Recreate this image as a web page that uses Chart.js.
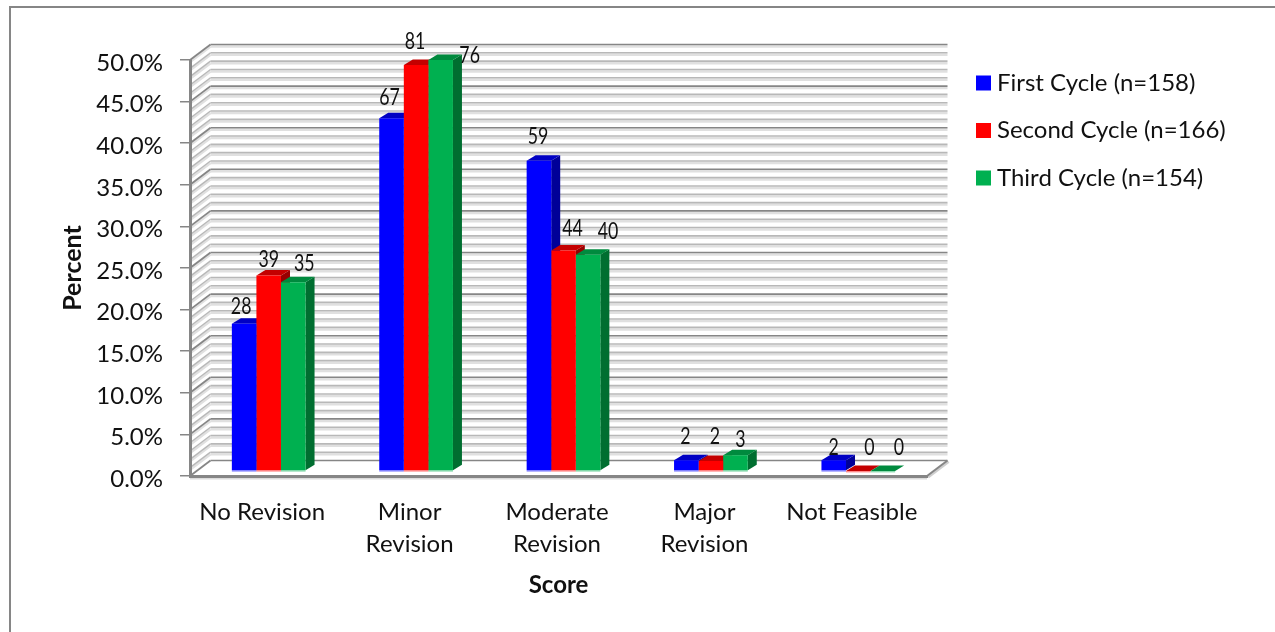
<!DOCTYPE html>
<html>
<head>
<meta charset="utf-8">
<title>Score by cycle</title>
<script src="https://cdn.jsdelivr.net/npm/chart.js@4"></script>
<style>
    body { margin: 0; background: #fff; overflow: hidden; }
    canvas { display: block; }
    .frame { position: fixed; left: 9px; top: 6px; right: 0; bottom: 0; border-left: 2px solid #868686; border-top: 2px solid #868686; pointer-events: none; }
</style>
</head>
<body>
<canvas id="score-chart" width="1275" height="632"></canvas>
<div class="frame"></div>
<script>
const categories = [["No Revision"], ["Minor", "Revision"], ["Moderate", "Revision"], ["Major", "Revision"], ["Not Feasible"]];
const seriesNames = ["First Cycle (n=158)", "Second Cycle (n=166)", "Third Cycle (n=154)"];

const firstCycle = [17.7, 42.4, 37.3, 1.3, 1.3];
const secondCycle = [23.5, 48.8, 26.5, 1.2, 0];
const thirdCycle = [22.7, 49.4, 26.0, 1.9, 0];

const firstCounts = [28, 67, 59, 2, 2];
const secondCounts = [39, 81, 44, 2, 0];
const thirdCounts = [35, 76, 40, 3, 0];

const uiFont = "Lato";
const gridDark = "#868686";
const gridMid = "#b8b8b8";
const gridShadow = "#e0e0e0";

// colours per series: front, top, side
const faces = [
    ["#0000ff", "#0000c4", "#000098"],
    ["#ff0000", "#c40000", "#980000"],
    ["#00b050", "#008a3e", "#006e30"],
];
const counts = [firstCounts, secondCounts, thirdCounts];

// hand placed count labels, offset from the top centre of each bar: [dx, dy]
const labelOffsets = [
    [[-3, -17], [-2, -21], [-1, -24], [-1, -24], [0, -13]],
    [[0, -16], [-1, -24], [9, -22], [4, -25], [11, -24]],
    [[11, -19], [29, -5], [20, -23], [5, -16], [16, -24]],
];

// the walls and floor sit behind the axes, the bars stand part way in
const wallDx = 20.5, wallDy = -15.5;
const barShiftX = 5, barShiftY = -5;
const depthX = 9, depthY = -5.5;

function line(ctx, x1, y1, x2, y2, color, width) {
    ctx.beginPath();
    ctx.moveTo(x1, y1);
    ctx.lineTo(x2, y2);
    ctx.strokeStyle = color;
    ctx.lineWidth = width;
    ctx.stroke();
}

function polygon(ctx, points, color) {
    ctx.beginPath();
    points.forEach((p, i) => (i ? ctx.lineTo(p[0], p[1]) : ctx.moveTo(p[0], p[1])));
    ctx.closePath();
    ctx.fillStyle = color;
    ctx.fill();
}

const wallsPlugin = {
    id: "walls",
    beforeDraw(chart) {
        const ctx = chart.ctx;
        const area = chart.chartArea;
        const yScale = chart.scales.y;
        ctx.save();
        for (let v = 0; v <= 50; v++) {
            const y = yScale.getPixelForValue(v);
            const major = v % 5 === 0;
            const color = major ? gridDark : gridMid;
            // light band under each line
            if (v > 0) {
                line(ctx, area.left + wallDx, y + wallDy + 2, area.right + wallDx, y + wallDy + 2, gridShadow, 2.5);
                line(ctx, area.left, y + 2, area.left + wallDx, y + wallDy + 2, gridShadow, 2.5);
            }
            line(ctx, area.left + wallDx, y + wallDy, area.right + wallDx, y + wallDy, color, 1.6);
            line(ctx, area.left, y, area.left + wallDx, y + wallDy, color, major ? 1.8 : 1.4);
        }
        // floor edges
        const bottom = area.bottom;
        line(ctx, area.left, bottom + 2.5, area.right, bottom + 2.5, "#dcdcdc", 2);
        line(ctx, area.right + 1, bottom + 1, area.right + wallDx + 1, bottom + wallDy + 1, "#cfcfcf", 3);
        line(ctx, area.right, bottom, area.right + wallDx, bottom + wallDy, gridDark, 2);
        ctx.restore();
    },
    beforeDatasetsDraw(chart) {
        const ctx = chart.ctx;
        ctx.save();
        ctx.translate(barShiftX, barShiftY);
        // top and side faces go first, the library fills the fronts over them
        faces.forEach((colors, d) => {
            chart.getDatasetMeta(d).data.forEach((bar) => {
                const left = bar.x - bar.width / 2;
                const right = bar.x + bar.width / 2;
                polygon(ctx, [[right, bar.y], [right + depthX, bar.y + depthY], [right + depthX, bar.base + depthY], [right, bar.base]], colors[2]);
                polygon(ctx, [[left, bar.y], [left + depthX, bar.y + depthY], [right + depthX, bar.y + depthY], [right, bar.y]], colors[1]);
                // pale lip along the foot of the bar
                ctx.globalAlpha = 0.45;
                line(ctx, left, bar.base + 0.7, right, bar.base + 0.7, colors[0], 1.4);
                ctx.globalAlpha = 1;
            });
        });
    },
    afterDatasetsDraw(chart) {
        const ctx = chart.ctx;
        ctx.restore();
        ctx.fillStyle = "#111";
        counts.forEach((list, d) => {
            chart.getDatasetMeta(d).data.forEach((bar, i) => {
                const offset = labelOffsets[d][i];
                // the count labels are set in a squeezed face
                ctx.save();
                ctx.translate(bar.x + barShiftX + offset[0], bar.y + barShiftY + offset[1]);
                ctx.scale(0.74, 1);
                ctx.textAlign = "center";
                ctx.textBaseline = "middle";
                ctx.font = "24px " + uiFont;
                ctx.fillText(String(list[i]), 0, 0);
                ctx.restore();
            });
        });
    },
    afterDraw(chart) {
        const ctx = chart.ctx;
        ctx.save();
        ctx.textAlign = "left";
        ctx.textBaseline = "middle";
        ctx.font = "24px " + uiFont;
        seriesNames.forEach((name, i) => {
            const y = 83 + i * 47.5;
            ctx.fillStyle = faces[i][0];
            ctx.fillRect(976, y - 7.5, 15, 15);
            ctx.fillStyle = "#111";
            ctx.fillText(name, 997, y);
        });
        ctx.restore();
    },
};

const scoreData = {
    labels: categories,
    datasets: [
        { label: seriesNames[0], data: firstCycle, backgroundColor: faces[0][0] },
        { label: seriesNames[1], data: secondCycle, backgroundColor: faces[1][0] },
        { label: seriesNames[2], data: thirdCycle, backgroundColor: faces[2][0] },
    ],
};

const scoreConfig = {
    type: "bar",
    data: scoreData,
    plugins: [wallsPlugin],
    options: {
        responsive: false,
        animation: false,
        layout: { padding: { left: 0, top: 60, right: 348, bottom: 0 } },
        datasets: { bar: { categoryPercentage: 0.5, barPercentage: 1, clip: false } },
        plugins: {
            legend: { display: false },
            tooltip: { enabled: false },
        },
        scales: {
            x: {
                afterFit: (scale) => { scale.height = 156; },
                grid: { display: false },
                border: { display: true, color: gridDark, width: 3 },
                ticks: {
                    color: "#111",
                    padding: 12,
                    labelOffset: -1.5,
                    maxRotation: 0,
                    autoSkip: false,
                    font: { family: uiFont, size: 24, lineHeight: 1.333 },
                },
                title: {
                    display: true,
                    text: "Score",
                    color: "#111",
                    font: { family: uiFont, size: 24, weight: "bold" },
                    padding: { top: 0, bottom: 32 },
                },
            },
            y: {
                min: 0,
                max: 50,
                afterFit: (scale) => { scale.width = 190; },
                grid: { drawOnChartArea: false, color: gridDark, tickLength: 10, lineWidth: 1.5 },
                border: { display: true, color: gridDark, width: 3 },
                ticks: {
                    stepSize: 5,
                    color: "#111",
                    padding: 17,
                    labelOffset: 3,
                    callback: (value) => value.toFixed(1) + "%",
                    font: { family: uiFont, size: 24 },
                },
                title: {
                    display: true,
                    text: "Percent",
                    color: "#111",
                    font: { family: uiFont, size: 25, weight: "bold" },
                    padding: { top: 58, bottom: 0 },
                },
            },
        },
    },
};

const scoreElem = document.getElementById("score-chart").getContext("2d");
const scoreChart = new Chart(scoreElem, scoreConfig);
</script>
</body>
</html>
